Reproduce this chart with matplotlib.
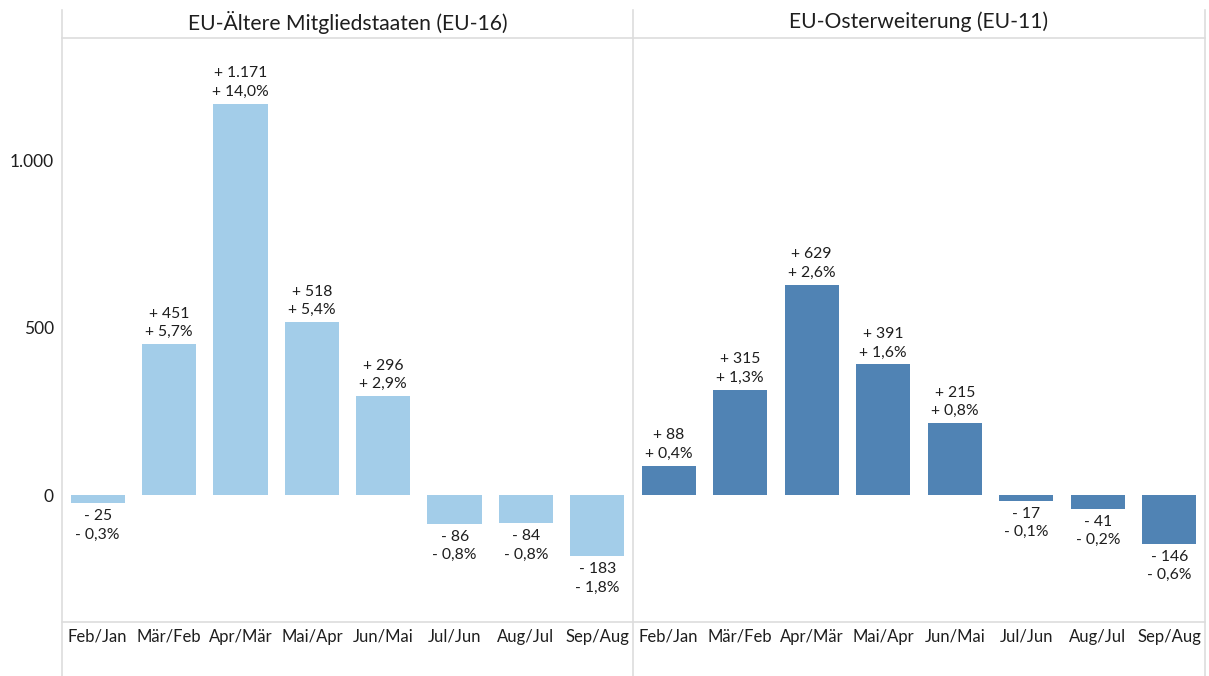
import matplotlib
matplotlib.use("Agg")
import matplotlib.pyplot as plt
from matplotlib.lines import Line2D

plt.rcParams['font.family'] = ['Lato', 'DejaVu Sans']

categories = ["Feb/Jan", "Mär/Feb", "Apr/Mär", "Mai/Apr", "Jun/Mai", "Jul/Jun", "Aug/Jul", "Sep/Aug"]
titles = ["EU-Ältere Mitgliedstaaten (EU-16)", "EU-Osterweiterung (EU-11)"]
eu16_values = [-25, 451, 1171, 518, 296, -86, -84, -183]
eu16_pct = [-0.3, 5.7, 14.0, 5.4, 2.9, -0.8, -0.8, -1.8]
eu11_values = [88, 315, 629, 391, 215, -17, -41, -146]
eu11_pct = [0.4, 1.3, 2.6, 1.6, 0.8, -0.1, -0.2, -0.6]
yticks = [0, 500, 1000]
ytick_labels = ["0", "500", "1.000"]
colors = ["#A3CDE9", "#5083B4"]

W, H = 1209, 676
fig = plt.figure(figsize=(W / 100, H / 100), dpi=100)

x0, xmid, x1 = 62, 633, 1205
ytop, ybot = 38, 622
ymin, ymax = -380, 1368
tc = "#1E1E1E"

def fmt_num(v):
    s = f"{abs(v):,}".replace(",", ".")
    return ("+ " if v >= 0 else "- ") + s

def fmt_pct(p):
    s = f"{abs(p):.1f}".replace(".", ",")
    return ("+ " if p >= 0 else "- ") + s + "%"

panels = [(x0, xmid, eu16_values, eu16_pct, colors[0], titles[0]),
          (xmid, x1, eu11_values, eu11_pct, colors[1], titles[1])]

for i, (xa, xb, vals, pcts, col, title) in enumerate(panels):
    ax = fig.add_axes([xa / W, 1 - ybot / H, (xb - xa) / W, (ybot - ytop) / H])
    xs = list(range(len(categories)))
    ax.bar(xs, vals, width=0.76, color=col)
    ax.set_xlim(-0.5, len(categories) - 0.5)
    ax.set_ylim(ymin, ymax)
    for s in ax.spines.values():
        s.set_visible(False)
    ax.set_xticks(xs)
    ax.set_xticklabels(categories, fontsize=12, color=tc)
    ax.tick_params(axis='x', length=0, pad=5)
    if i == 0:
        ax.set_yticks(yticks)
        ax.set_yticklabels(ytick_labels, fontsize=12.5, color=tc)
        ax.tick_params(axis='y', length=0, pad=6)
    else:
        ax.set_yticks([])
    for xv, v, p in zip(xs, vals, pcts):
        txt = fmt_num(v) + "\n" + fmt_pct(p)
        if v >= 0:
            ax.annotate(txt, (xv, v), xytext=(0, 5), textcoords='offset pixels',
                        ha='center', va='bottom', fontsize=11.3, color=tc,
                        linespacing=1.4)
        else:
            ax.annotate(txt, (xv, v), xytext=(0, -6), textcoords='offset pixels',
                        ha='center', va='top', fontsize=11.3, color=tc,
                        linespacing=1.4)
    fig.text(((xa + xb) / 2) / W, 1 - 22 / H, title, ha='center', va='center',
             fontsize=15.2, color=tc)

lc = "#DDDDDD"
def hline(y, xa, xb):
    fig.add_artist(Line2D([xa / W, xb / W], [1 - y / H, 1 - y / H], color=lc, lw=1.2))
def vline(x, ya, yb):
    fig.add_artist(Line2D([x / W, x / W], [1 - ya / H, 1 - yb / H], color=lc, lw=1.2))

hline(ytop, x0, x1)
hline(ybot, x0, x1)
vline(x0, 10, H)
vline(xmid, 10, H)
vline(x1, 10, H)

fig.savefig("out.png", dpi=100)
